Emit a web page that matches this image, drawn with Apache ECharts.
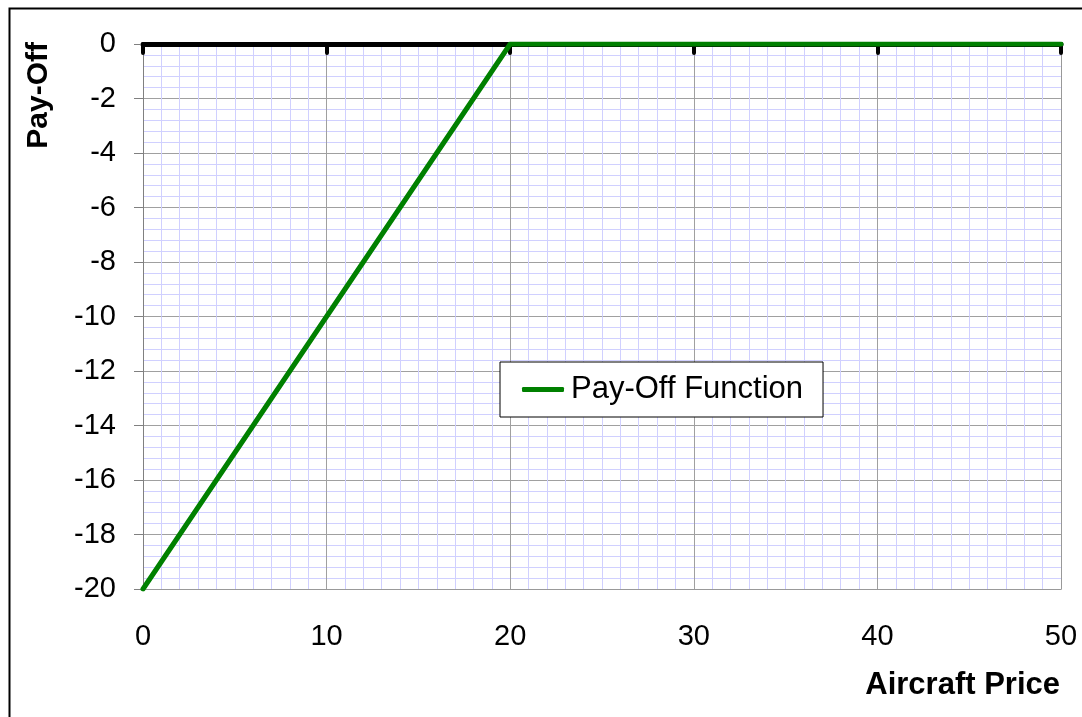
<!DOCTYPE html>
<html>
<head>
<meta charset="utf-8">
<script src="https://cdn.jsdelivr.net/npm/echarts@6/dist/echarts.min.js"></script>
<style>html,body{margin:0;padding:0;background:#fff;}#c{width:1082px;height:717px;}</style>
</head>
<body>
<div id="c"></div>
<script>
const prices = [0,1,2,3,4,5,6,7,8,9,10,11,12,13,14,15,16,17,18,19,20,21,22,23,24,25,26,27,28,29,30,31,32,33,34,35,36,37,38,39,40,41,42,43,44,45,46,47,48,49,50];
const payoff = [-20,-19,-18,-17,-16,-15,-14,-13,-12,-11,-10,-9,-8,-7,-6,-5,-4,-3,-2,-1,0,0,0,0,0,0,0,0,0,0,0,0,0,0,0,0,0,0,0,0,0,0,0,0,0,0,0,0,0,0,0];
const seriesName = 'Pay-Off Function';
const xTitle = 'Aircraft Price';
const yTitle = 'Pay-Off';

const chart = echarts.init(document.getElementById('c'), null, {renderer: 'canvas'});
const font = 'Arial, "Liberation Sans", sans-serif';
chart.setOption({
  animation: false,
  backgroundColor: '#fff',
  grid: {left: 143, top: 44, right: 21, bottom: 128, show: false},
  legend: {
    data: [{name: seriesName, icon: 'roundRect'}],
    left: 500, top: 362,
    padding: [12, 20, 12, 22],
    backgroundColor: '#fff', borderColor: '#000', borderWidth: 1,
    itemWidth: 42, itemHeight: 5, itemGap: 8,
    textStyle: {fontFamily: font, fontSize: 31, color: '#000', padding: [0, 0, 0, 2]}
  },
  xAxis: [
    {
      type: 'value', min: 0, max: 50, interval: 10, position: 'bottom',
      axisLine: {show: true, onZero: false, lineStyle: {color: '#999', width: 1}},
      axisTick: {show: false},
      axisLabel: {fontFamily: font, fontSize: 29, color: '#000', margin: 33},
      splitLine: {show: true, lineStyle: {color: '#a0a0a0', width: 1}},
      minorTick: {show: false, splitNumber: 10},
      minorSplitLine: {show: true, lineStyle: {color: '#d0d0ff', width: 1}}
    },
    {
      type: 'value', min: 0, max: 50, interval: 10, position: 'top',
      axisLine: {show: true, onZero: false, lineStyle: {color: '#000', width: 5}},
      axisTick: {show: true, inside: true, length: 9, lineStyle: {color: '#000', width: 4, cap: 'round'}},
      axisLabel: {show: false},
      splitLine: {show: false}
    }
  ],
  yAxis: [
    {
      type: 'value', min: -20, max: 0, interval: 2, position: 'left',
      axisLine: {show: true, onZero: false, lineStyle: {color: '#808080', width: 1}},
      axisTick: {show: true, length: 9, lineStyle: {color: '#808080', width: 1}},
      axisLabel: {fontFamily: font, fontSize: 29, color: '#000', margin: 27},
      splitLine: {show: true, lineStyle: {color: '#a0a0a0', width: 1}},
      minorTick: {show: false, splitNumber: 5},
      minorSplitLine: {show: true, lineStyle: {color: '#d0d0ff', width: 1}}
    },
    {
      type: 'value', min: -20, max: 0, interval: 2, position: 'right',
      axisLine: {show: true, onZero: false, lineStyle: {color: '#999', width: 1}},
      axisTick: {show: false}, axisLabel: {show: false}, splitLine: {show: false}
    }
  ],
  series: [{
    name: seriesName, type: 'line', xAxisIndex: 0, yAxisIndex: 0,
    data: prices.map((p, i) => [p, payoff[i]]),
    showSymbol: false, symbol: 'none',
    lineStyle: {color: '#008000', width: 5, cap: 'round', join: 'round'},
    itemStyle: {color: '#008000'},
    z: 5
  }],
  graphic: [
    {type: 'rect', left: 7, top: 6, shape: {width: 1200, height: 800}, style: {fill: 'none', stroke: '#000', lineWidth: 2}, silent: true, z: 100},
    {type: 'text', left: 24, top: 42, rotation: Math.PI / 2, style: {text: yTitle, fontFamily: font, fontSize: 30, fontWeight: 'bold', fill: '#000'}},
    {type: 'text', right: 22, top: 670, style: {text: xTitle, fontFamily: font, fontSize: 31, fontWeight: 'bold', fill: '#000'}}
  ]
});
</script>
</body>
</html>
